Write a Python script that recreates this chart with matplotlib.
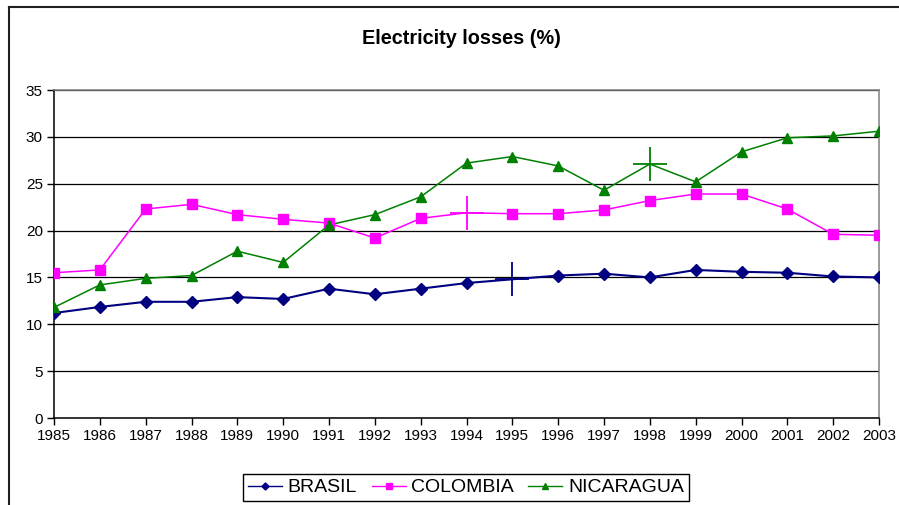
import matplotlib
matplotlib.use("Agg")
import matplotlib.pyplot as plt
from matplotlib.lines import Line2D

plt.rcParams['font.family'] = ['Liberation Sans', 'DejaVu Sans']

years = list(range(1985, 2004))
brasil = [11.2, 11.85, 12.4, 12.4, 12.9, 12.7, 13.8, 13.2, 13.8, 14.4, 14.8,
          15.2, 15.4, 15.0, 15.8, 15.6, 15.5, 15.1, 15.0]
colombia = [15.5, 15.8, 22.3, 22.8, 21.7, 21.2, 20.8, 19.2, 21.3, 21.9, 21.8,
            21.8, 22.2, 23.2, 23.9, 23.9, 22.3, 19.6, 19.5]
nicaragua = [11.8, 14.2, 14.9, 15.2, 17.8, 16.6, 20.6, 21.7, 23.6, 27.2, 27.9,
             26.9, 24.3, 27.1, 25.2, 28.4, 29.9, 30.1, 30.6]
# points drawn with a large '+' marker instead of the regular one
special_brasil = 1995
special_colombia = 1994
special_nicaragua = 1998

series = [
    ("BRASIL", brasil, "#000080", "D", 6, 1.5, special_brasil),
    ("COLOMBIA", colombia, "#FF00FF", "s", 6.5, 1.1, special_colombia),
    ("NICARAGUA", nicaragua, "#008000", "^", 7, 1.1, special_nicaragua),
]

fig = plt.figure(figsize=(8.99, 5.05), dpi=100)
ax = fig.add_axes([54/899, 1-418/505, (879-54)/899, (418-90)/505])

handles = []
for name, vals, col, mk, ms, lw, sp in series:
    ax.plot(years, vals, color=col, lw=lw, zorder=3)
    xs = [y for y in years if y != sp]
    vs = [v for y, v in zip(years, vals) if y != sp]
    ax.plot(xs, vs, ls='none', marker=mk, ms=ms, color=col, mec=col, zorder=4)
    i = years.index(sp)
    ax.plot([sp], [vals[i]], ls='none', marker='+', ms=24, mew=1.3, color=col, zorder=4)
    handles.append(Line2D([], [], color=col, lw=1.0, marker=mk, ms=ms*0.6, mec=col))

ax.set_xlim(1985, 2003)
ax.set_ylim(0, 35)
ax.set_xticks(years)
ax.set_xticklabels([str(y) for y in years], fontsize=11)
ax.set_yticks(range(0, 36, 5))
ax.set_yticklabels([str(v) for v in range(0, 36, 5)], fontsize=11)
ax.tick_params(axis='both', direction='out', length=5, width=1, color='black', pad=3)

ax.grid(axis='y', color='black', lw=0.9, zorder=1)
ax.set_axisbelow(True)
for s in ['left', 'bottom']:
    ax.spines[s].set_color('black')
    ax.spines[s].set_linewidth(1.1)
for s in ['top', 'right']:
    ax.spines[s].set_color('#808080')
    ax.spines[s].set_linewidth(1.1)

fig.text(461/899, 1-38/505, "Electricity losses (%)", ha='center', va='center',
         fontsize=14.3, fontweight='bold')

leg = fig.legend(handles, [s[0] for s in series], loc='center',
                 bbox_to_anchor=(466/899, 1-487.5/505), ncol=3, fontsize=14,
                 frameon=True, fancybox=False, edgecolor='black', framealpha=1,
                 handlelength=1.75, handletextpad=0.28, columnspacing=0.75,
                 borderpad=0.25, borderaxespad=0)
leg.get_frame().set_linewidth(1.0)

# outer chart-area border (left and top edges visible)
fig.add_artist(Line2D([9/899, 9/899], [0, 1-7/505], transform=fig.transFigure,
                      color='#202020', lw=1.5))
fig.add_artist(Line2D([9/899, 1], [1-7/505, 1-7/505], transform=fig.transFigure,
                      color='#202020', lw=1.5))

fig.savefig("out.png", dpi=100)
